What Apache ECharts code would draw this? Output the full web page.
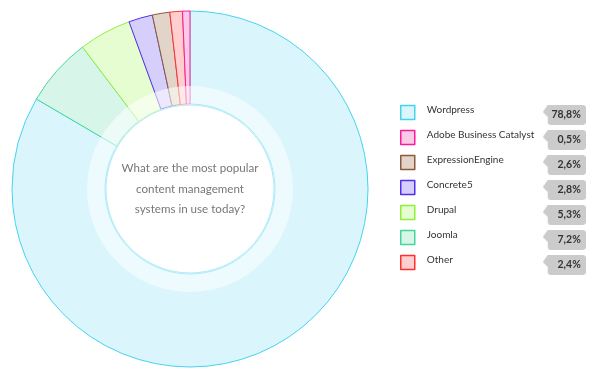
<!DOCTYPE html>
<html>
<head>
<meta charset="utf-8">
<script src="https://cdn.jsdelivr.net/npm/echarts@6/dist/echarts.min.js"></script>
<style>
html, body { margin: 0; padding: 0; background: #fff; }
#chart { width: 596px; height: 377px; }
</style>
</head>
<body>
<div id="chart"></div>
<script>
var names = ['Wordpress', 'Joomla', 'Drupal', 'Concrete5', 'ExpressionEngine', 'Other', 'Adobe Business Catalyst'];
var sliceValues = [83.4, 6.25, 4.75, 2.17, 1.58, 1.14, 0.67];
// shares printed next to the legend
var shareLabels = ['78,8%', '7,2%', '5,3%', '2,8%', '2,6%', '2,4%', '0,5%'];
var legendOrder = ['Wordpress', 'Adobe Business Catalyst', 'ExpressionEngine', 'Concrete5', 'Drupal', 'Joomla', 'Other'];
var question = 'What are the most popular\ncontent management\nsystems in use today?';

var fills = ['#daf5fc', '#d8f5ea', '#e6fdd2', '#d6cffb', '#e3d4c9', '#ffcfcf', '#f9cbe6'];
var strokes = ['#45d3ef', '#45d79a', '#8ff03a', '#4f2ff0', '#8b5a3a', '#ff3030', '#ff1a9c'];

// grey tag behind the percentage
function makeTag() {
    var c = document.createElement('canvas');
    c.width = 43;
    c.height = 25;
    var ctx = c.getContext('2d');
    ctx.fillStyle = '#cbcbcb';
    var t = 5, l = 5, r = 43, b = 25, rad = 3;
    ctx.beginPath();
    ctx.moveTo(l, t);
    ctx.lineTo(r - rad, t);
    ctx.quadraticCurveTo(r, t, r, t + rad);
    ctx.lineTo(r, b - rad);
    ctx.quadraticCurveTo(r, b, r - rad, b);
    ctx.lineTo(l + rad, b);
    ctx.quadraticCurveTo(l, b, l, b - rad);
    ctx.lineTo(l, t + 12);
    ctx.lineTo(0, t + 7);
    ctx.closePath();
    ctx.fill();
    return c;
}
var tag = makeTag();

var pieData = [];
var shareByName = {};
for (var i = 0; i < names.length; i++) {
    pieData.push({
        name: names[i],
        value: sliceValues[i],
        itemStyle: { color: fills[i], borderColor: strokes[i], borderWidth: 1 }
    });
    shareByName[names[i]] = shareLabels[i];
}

var myChart = echarts.init(document.getElementById('chart'));
var option = {
    animation: false,
    legend: {
        orient: 'vertical',
        left: 400,
        top: 100,
        padding: 0,
        itemGap: 0,
        itemWidth: 14,
        itemHeight: 14,
        icon: 'rect',
        selectedMode: false,
        data: legendOrder,
        itemStyle: { borderWidth: 1.5 },
        formatter: function (name) {
            return '{n|' + name + '}{p|' + shareByName[name] + '}';
        },
        textStyle: {
            rich: {
                n: {
                    width: 116,
                    padding: [0, 0, 0, 7],
                    lineHeight: 20,
                    height: 20,
                    verticalAlign: 'top',
                    fontFamily: 'Lato',
                    fontSize: 10,
                    color: '#333'
                },
                p: {
                    width: 38,
                    height: 20,
                    padding: [5, 5, 0, 0],
                    align: 'right',
                    fontFamily: 'Lato',
                    fontSize: 10.5,
                    fontWeight: 'bold',
                    color: '#333',
                    backgroundColor: { image: tag }
                }
            }
        }
    },
    series: [
        {
            type: 'pie',
            center: [190, 189],
            radius: [85, 178],
            startAngle: 90,
            clockwise: true,
            silent: true,
            label: { show: false },
            labelLine: { show: false },
            data: pieData
        },
        {
            type: 'pie',
            center: [190, 189],
            radius: [84, 103],
            silent: true,
            z: 3,
            label: { show: false },
            data: [{ name: 'ring', value: 1, itemStyle: { color: 'rgba(255,255,255,0.55)' } }]
        },
        {
            type: 'pie',
            center: [190, 189],
            radius: [0, 84],
            silent: true,
            z: 4,
            label: {
                show: true,
                position: 'center',
                formatter: question,
                fontFamily: 'Lato',
                fontSize: 11.6,
                lineHeight: 20.5,
                color: '#777'
            },
            data: [{ name: 'question', value: 1, itemStyle: { color: '#fff', borderColor: '#aee9f7', borderWidth: 1 } }]
        }
    ]
};
myChart.setOption(option);
</script>
</body>
</html>
